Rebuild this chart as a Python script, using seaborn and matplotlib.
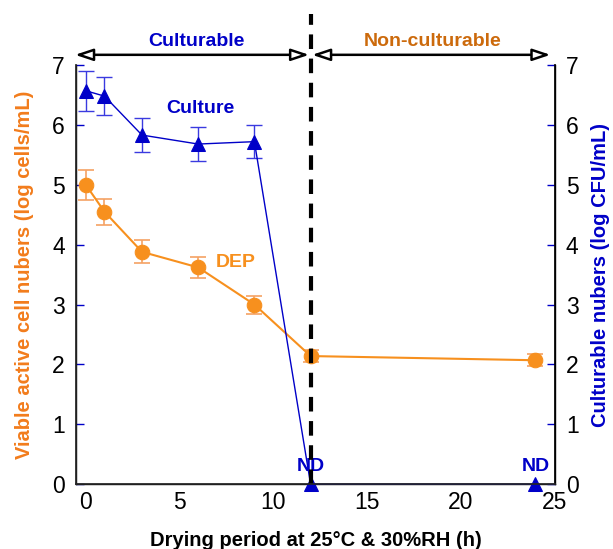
import matplotlib
matplotlib.use("Agg")
import matplotlib.pyplot as plt
import seaborn as sns
import pandas as pd
import numpy as np

# Drying time points (h)
hours = [0, 1, 3, 6, 9, 12, 24]

# Viable active cells by DEP (log cells/mL)
dep_mean = [5.0, 4.55, 3.88, 3.62, 3.0, 2.14, 2.07]
dep_err = [0.25, 0.22, 0.19, 0.18, 0.15, 0.10, 0.10]

# Culturable cells (log CFU/mL); 0 = not detected
cult_mean = [6.57, 6.48, 5.83, 5.68, 5.72, 0.0, 0.0]
cult_err = [0.33, 0.32, 0.29, 0.28, 0.28, 0.0, 0.0]
nd_hours = [12, 24]

y_ticks = [0, 1, 2, 3, 4, 5, 6, 7]
x_ticks = [0, 5, 10, 15, 20, 25]

sns.set_theme(style="white")
plt.rcParams["font.family"] = ["Liberation Sans", "DejaVu Sans"]

ORANGE = "#f7901e"
ORANGE_ERR = "#f5a263"
BLUE = "#0000c8"
BLUE_ERR = "#3a3ae0"
BROWN = "#cc6a0c"

df = pd.DataFrame({"hours": hours, "dep": dep_mean, "culture": cult_mean})

fig = plt.figure(figsize=(6.13, 5.49), dpi=100)
ax = fig.add_axes([0.124, 0.118, 0.781, 0.7636])

# error bars
ax.errorbar(hours, dep_mean, yerr=dep_err, fmt="none", ecolor=ORANGE_ERR,
            elinewidth=1.2, capsize=6, capthick=1.2, zorder=2)
ax.errorbar(hours[:5], cult_mean[:5], yerr=cult_err[:5], fmt="none",
            ecolor=BLUE_ERR, elinewidth=1.0, capsize=6, capthick=1.0, zorder=2)

sns.lineplot(data=df, x="hours", y="dep", ax=ax, color=ORANGE, lw=1.5,
             marker="o", markersize=10.5, markeredgecolor=ORANGE, zorder=3)
sns.lineplot(data=df, x="hours", y="culture", ax=ax, color=BLUE, lw=1.0,
             marker="^", markersize=10.5, markeredgecolor=BLUE, zorder=3,
             clip_on=False)

ax.set_xlim(-0.52, 25.03)
ax.set_ylim(0, 7)
ax.set_xticks(x_ticks)
ax.set_yticks(y_ticks)
ax.tick_params(axis="both", direction="in", length=6, width=1, color=BLUE,
               labelsize=16.5, labelcolor="black", pad=8)
ax.tick_params(axis="x", pad=5)

ax.set_xlabel("Drying period at 25°C & 30%RH (h)", fontsize=14.5,
              fontweight="bold", color="black", labelpad=12)
ax.set_ylabel("Viable active cell nubers (log cells/mL)", fontsize=14.5,
              fontweight="bold", color="#f27c1c", labelpad=13)

for side in ["left", "bottom", "right"]:
    ax.spines[side].set_color("black")
    ax.spines[side].set_linewidth(1.0)
ax.spines["top"].set_visible(False)

ax2 = ax.twinx()
ax2.set_ylim(0, 7)
ax2.set_yticks(y_ticks)
ax2.tick_params(axis="y", direction="in", length=6, width=1, color=BLUE,
                labelsize=16.5, labelcolor="black", pad=8)
ax2.set_ylabel("Culturable nubers (log CFU/mL)", fontsize=14.5,
               fontweight="bold", color=BLUE, labelpad=9)
ax2.spines["top"].set_visible(False)
ax2.spines["right"].set_color("black")
ax2.grid(False)
ax.grid(False)

# boundary between culturable and non-culturable states
ax.plot([12, 12], [0, 7.85], color="black", lw=3, ls=(0, (3.5, 2.3)),
        clip_on=False, zorder=4)

arrow_kw = dict(arrowstyle="<|-|>,head_length=0.9,head_width=0.3",
                edgecolor="black", facecolor="white", lw=1.8,
                shrinkA=0, shrinkB=0)
ax.annotate("", xy=(-0.57, 7.17), xytext=(11.92, 7.17), xycoords="data",
            arrowprops=arrow_kw, annotation_clip=False)
ax.annotate("", xy=(12.08, 7.17), xytext=(24.8, 7.17), xycoords="data",
            arrowprops=arrow_kw, annotation_clip=False)

ax.text(5.9, 7.4, "Culturable", color=BLUE, fontsize=14, fontweight="bold",
        ha="center", va="center", clip_on=False)
ax.text(18.5, 7.4, "Non-culturable", color=BROWN, fontsize=14,
        fontweight="bold", ha="center", va="center", clip_on=False)

ax.text(6.1, 6.28, "Culture", color=BLUE, fontsize=14, fontweight="bold",
        ha="center", va="center")
ax.text(8.0, 3.7, "DEP", color=ORANGE, fontsize=14, fontweight="bold",
        ha="center", va="center")
for h in nd_hours:
    ax.text(h, 0.3, "ND", color=BLUE, fontsize=14, fontweight="bold",
            ha="center", va="center")

fig.savefig("out.png", dpi=100)
